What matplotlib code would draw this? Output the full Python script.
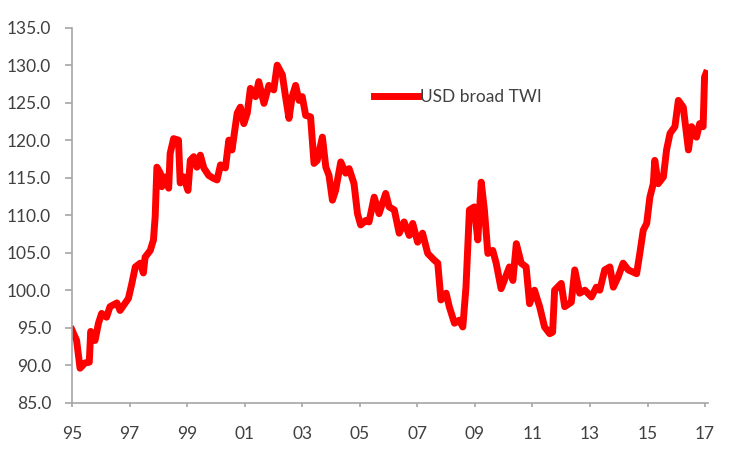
import matplotlib
matplotlib.use("Agg")
import matplotlib.pyplot as plt

# USD broad trade-weighted index (fractional year, index level)
years = [
    1995.00, 1995.16, 1995.28, 1995.45, 1995.60, 1995.65, 1995.80, 1995.92,
    1996.03, 1996.20, 1996.32, 1996.56, 1996.67, 1996.85, 1996.96, 1997.08,
    1997.20, 1997.37, 1997.48, 1997.54, 1997.72, 1997.83, 1997.89, 1997.92,
    1997.95, 1998.07, 1998.12, 1998.24, 1998.36, 1998.41, 1998.53, 1998.70,
    1998.76, 1998.88, 1999.03, 1999.11, 1999.23, 1999.34, 1999.46, 1999.58,
    1999.75, 1999.92, 2000.04, 2000.16, 2000.33, 2000.45, 2000.56, 2000.74,
    2000.85, 2000.97, 2001.09, 2001.20, 2001.38, 2001.49, 2001.67, 2001.84,
    2002.01, 2002.13, 2002.31, 2002.42, 2002.54, 2002.65, 2002.77, 2002.89,
    2003.00, 2003.12, 2003.29, 2003.41, 2003.52, 2003.70, 2003.82, 2003.93,
    2004.05, 2004.16, 2004.34, 2004.51, 2004.63, 2004.80, 2004.92, 2005.03,
    2005.21, 2005.32, 2005.50, 2005.67, 2005.90, 2006.02, 2006.20, 2006.37,
    2006.54, 2006.72, 2006.84, 2007.01, 2007.18, 2007.36, 2007.59, 2007.71,
    2007.82, 2008.00, 2008.11, 2008.29, 2008.46, 2008.58, 2008.69, 2008.81,
    2008.98, 2009.10, 2009.22, 2009.33, 2009.45, 2009.62, 2009.74, 2009.91,
    2010.09, 2010.20, 2010.32, 2010.44, 2010.61, 2010.78, 2010.90, 2011.07,
    2011.25, 2011.42, 2011.60, 2011.70, 2011.77, 2012.00, 2012.12, 2012.35,
    2012.47, 2012.64, 2012.82, 2013.05, 2013.22, 2013.34, 2013.51, 2013.69,
    2013.81, 2013.98, 2014.15, 2014.33, 2014.62, 2014.73, 2014.85, 2014.97,
    2015.08, 2015.20, 2015.25, 2015.37, 2015.55, 2015.66, 2015.78, 2015.95,
    2016.07, 2016.24, 2016.42, 2016.53, 2016.70, 2016.81, 2016.93, 2016.98,
    2017.03,
]
twi = [
    94.7, 93.3, 89.6, 90.3, 90.4, 94.5, 93.3, 95.6,
    96.9, 96.4, 97.8, 98.3, 97.3, 98.3, 98.9, 100.9,
    103.1, 103.6, 102.3, 104.4, 105.3, 106.7, 109.8, 113.3,
    116.4, 115.6, 113.8, 115.1, 113.6, 118.2, 120.2, 120.0,
    114.3, 115.1, 113.3, 117.3, 117.8, 116.4, 118.0, 116.3,
    115.3, 114.9, 114.7, 116.7, 116.3, 120.0, 118.7, 123.6,
    124.4, 122.2, 123.6, 126.9, 125.8, 127.8, 124.9, 127.3,
    126.7, 130.0, 128.7, 125.8, 122.9, 125.8, 127.3, 125.3,
    125.8, 123.3, 123.1, 116.9, 117.3, 120.4, 116.4, 115.3,
    112.0, 113.3, 117.1, 115.6, 116.2, 114.2, 110.2, 108.7,
    109.3, 109.1, 112.4, 110.2, 112.9, 111.1, 110.7, 107.6,
    109.1, 107.3, 108.9, 106.4, 107.6, 104.9, 104.0, 103.6,
    98.7, 99.6, 97.8, 95.6, 96.0, 95.1, 100.4, 110.7,
    111.1, 106.7, 114.4, 110.7, 104.9, 105.3, 103.6, 100.2,
    102.0, 103.1, 101.3, 106.2, 103.6, 103.1, 98.2, 100.0,
    97.8, 95.1, 94.2, 94.4, 100.0, 100.9, 97.8, 98.4,
    102.7, 99.6, 100.0, 99.1, 100.4, 100.0, 102.7, 103.1,
    100.4, 101.8, 103.6, 102.7, 102.2, 104.9, 108.0, 108.9,
    112.4, 114.2, 117.3, 114.2, 115.1, 118.7, 120.9, 121.8,
    125.3, 124.4, 118.7, 121.8, 120.4, 122.2, 121.8, 128.4,
    128.9,
]

year_ticks = list(range(1995, 2018, 2))
year_labels = ["%02d" % (y % 100) for y in year_ticks]
value_ticks = [85, 90, 95, 100, 105, 110, 115, 120, 125, 130, 135]

plt.rcParams["font.family"] = ["Lato", "DejaVu Sans"]
txt = "#404040"
grey = "#a6a6a6"

fig = plt.figure(figsize=(7.5, 4.53), dpi=100)
ax = fig.add_axes([0.096, 0.111, 0.848, 0.828])

ax.plot(years, twi, color="#ff0000", lw=5, solid_joinstyle="round",
        label="USD broad TWI")

ax.set_xlim(1995, 2017.1)
ax.set_ylim(85, 135)
ax.set_xticks(year_ticks)
ax.set_xticklabels(year_labels)
ax.set_yticks(value_ticks)
ax.set_yticklabels(["%.1f" % v for v in value_ticks])

for s in ["top", "right"]:
    ax.spines[s].set_visible(False)
for s in ["left", "bottom"]:
    ax.spines[s].set_color(grey)
    ax.spines[s].set_linewidth(1.2)
ax.tick_params(axis="both", colors=grey, width=1.2,
               labelcolor=txt, labelsize=12.5)
ax.tick_params(axis="x", length=3, pad=14)
ax.tick_params(axis="y", length=5, pad=10)

leg = ax.legend(loc="center left", bbox_to_anchor=(0.451, 0.815),
                frameon=False, handlelength=2.5, handletextpad=0.1,
                fontsize=12.5)
for t in leg.get_texts():
    t.set_color(txt)

fig.savefig("out.png", dpi=100)
